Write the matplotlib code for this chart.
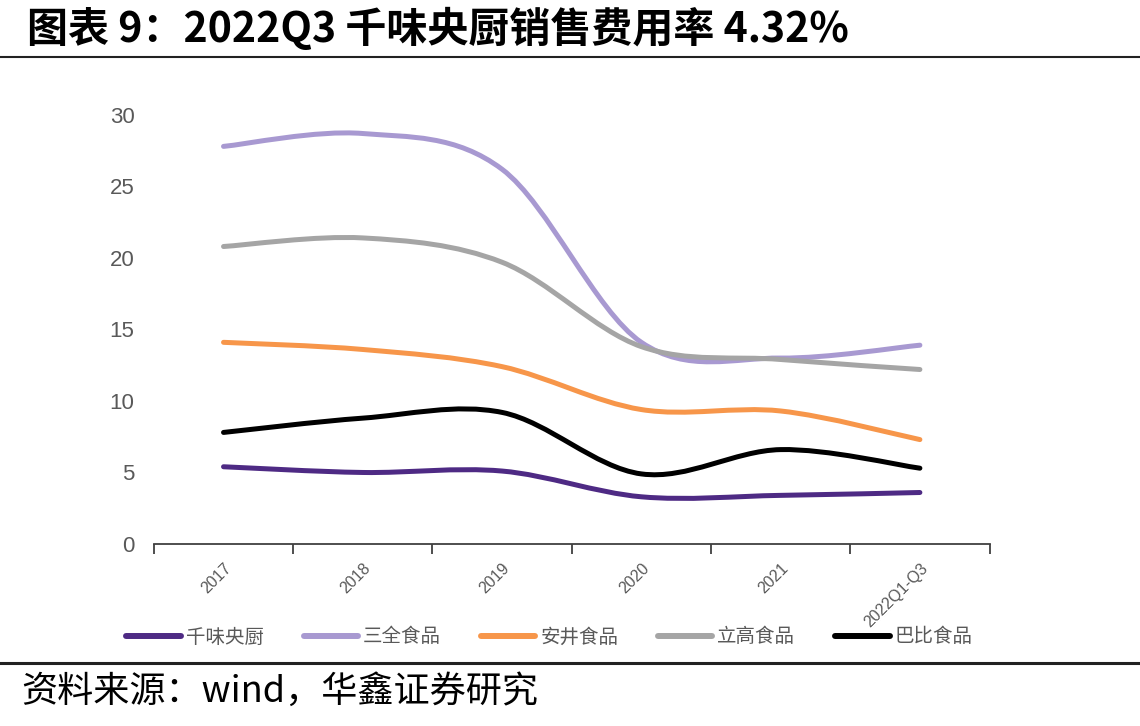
import matplotlib
matplotlib.use("Agg")
import matplotlib.pyplot as plt
from matplotlib.path import Path
from matplotlib.patches import PathPatch
from matplotlib.lines import Line2D

plt.rcParams['font.family'] = ['Noto Sans CJK SC', 'DejaVu Sans']

# ------------------------------------------------------------------
# data
categories = ['2017', '2018', '2019', '2020', '2021', '2022Q1-Q3']
qianwei = [5.4, 5.0, 5.1, 3.3, 3.4, 3.6]
sanquan = [27.8, 28.7, 26.2, 14.1, 13.0, 13.9]
anjing = [14.1, 13.6, 12.4, 9.4, 9.3, 7.3]
ligao = [20.8, 21.4, 19.7, 13.8, 12.9, 12.2]
babi = [7.8, 8.8, 9.2, 4.9, 6.6, 5.3]

names = ['千味央厨', '三全食品', '安井食品', '立高食品', '巴比食品']
colors = ['#4E2A84', '#A899D1', '#F7964A', '#A5A5A5', '#000000']
series = [qianwei, sanquan, anjing, ligao, babi]

# ------------------------------------------------------------------

def smooth_path(xs, ys):
    # excel-like smoothed line: bezier segments with catmull-rom control points
    n = len(xs)
    verts = [(xs[0], ys[0])]
    codes = [Path.MOVETO]
    for i in range(n - 1):
        x0, y0 = xs[max(i - 1, 0)], ys[max(i - 1, 0)]
        x1, y1 = xs[i], ys[i]
        x2, y2 = xs[i + 1], ys[i + 1]
        x3, y3 = xs[min(i + 2, n - 1)], ys[min(i + 2, n - 1)]
        c1 = (x1 + (x2 - x0) / 6.0, y1 + (y2 - y0) / 6.0)
        c2 = (x2 - (x3 - x1) / 6.0, y2 - (y3 - y1) / 6.0)
        verts += [c1, c2, (x2, y2)]
        codes += [Path.CURVE4, Path.CURVE4, Path.CURVE4]
    return Path(verts, codes)


fig = plt.figure(figsize=(11.4, 7.26), dpi=100)
ax = fig.add_axes([0.135, 0.2507, 0.733, 0.591])

xs = list(range(len(categories)))
for vals, col in zip(series, colors):
    patch = PathPatch(smooth_path(xs, vals), facecolor='none', edgecolor=col,
                      lw=3.6, capstyle='round', joinstyle='round')
    ax.add_patch(patch)

ax.set_xlim(-0.5, len(categories) - 0.5)
ax.set_ylim(0, 30)
ax.set_yticks([0, 5, 10, 15, 20, 25, 30])
ax.tick_params(axis='y', length=0, labelsize=16, labelcolor='#595959', pad=14)
for lab in ax.get_yticklabels():
    lab.set_family(['Liberation Sans', 'DejaVu Sans'])

ax.set_xticks([i - 0.5 for i in range(len(categories) + 1)])
ax.set_xticklabels([])
ax.tick_params(axis='x', which='major', length=7, width=1.3, color='#404040', direction='out')
ax.set_xticks(xs, minor=True)
ax.set_xticklabels(categories, minor=True, rotation=45, ha='right', va='top',
                   rotation_mode='anchor', fontsize=11.5, color='#595959',
                   family=['Liberation Sans', 'DejaVu Sans'])
ax.tick_params(axis='x', which='minor', length=0, pad=12)

for s in ['left', 'right', 'top']:
    ax.spines[s].set_visible(False)
ax.spines['bottom'].set_color('#404040')
ax.spines['bottom'].set_linewidth(1.3)

handles = [Line2D([0], [0], color=c, lw=4.3, solid_capstyle='round') for c in colors]
fig.legend(handles, names, loc='center', bbox_to_anchor=(0.482, 0.1226), ncol=5,
           frameon=False, fontsize=14, handlelength=2.8, handletextpad=0.25,
           columnspacing=2.05, labelcolor='#595959')

fig.text(0.024, 0.959, '图表 9：2022Q3 千味央厨销售费用率 4.32%', fontsize=29.5,
         fontweight='bold', va='center', ha='left')
fig.text(0.019, 0.047, '资料来源：wind，华鑫证券研究', fontsize=26, va='center', ha='left')

fig.add_artist(Line2D([0, 1], [1 - 57 / 726, 1 - 57 / 726], color='#222222', lw=1.5))
fig.add_artist(Line2D([0, 1], [1 - 663 / 726, 1 - 663 / 726], color='#222222', lw=2.2))

fig.savefig('out.png', dpi=100)
